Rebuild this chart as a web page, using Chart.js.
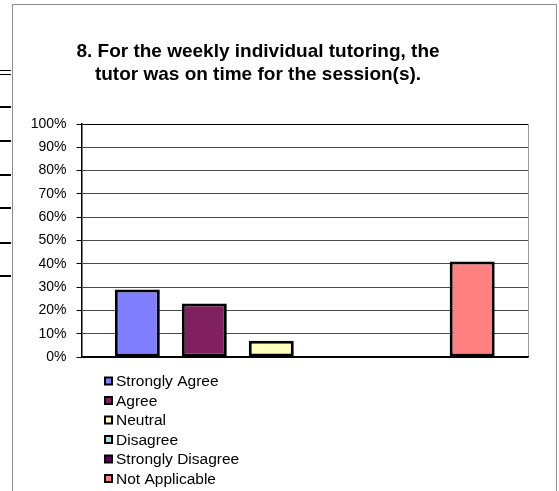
<!DOCTYPE html>
<html>
<head>
<meta charset="utf-8">
<script src="https://cdn.jsdelivr.net/npm/chart.js"></script>
<style>
  html, body { margin: 0; padding: 0; background: #fff; }
  #wrap { position: relative; width: 559px; height: 491px; overflow: hidden; }
  #frame {
    position: absolute; left: 12px; top: 4px; width: 545px; height: 500px;
    border: 1px solid #8c8c8c; box-sizing: border-box;
  }
  .stub { position: absolute; left: 0; width: 11px; height: 2px; background: #000; }
  #chartBox { position: absolute; left: 0; top: 0; width: 559px; height: 491px; }
</style>
</head>
<body>
<div id="wrap">
  <div class="stub" style="top:70px;height:1px"></div>
  <div class="stub" style="top:74px;height:1px"></div>
  <div class="stub" style="top:106px"></div>
  <div class="stub" style="top:140px"></div>
  <div class="stub" style="top:174px"></div>
  <div class="stub" style="top:207px"></div>
  <div class="stub" style="top:242px"></div>
  <div class="stub" style="top:275px"></div>
  <div id="frame"></div>
  <div id="chartBox"><canvas id="chart"></canvas></div>
</div>
<script>
const TITLE_LINES = [
  "8. For the weekly individual tutoring, the",
  "tutor was on time for the session(s).",
];
const CATEGORIES = [""];
const SERIES_NAMES = ["Strongly Agree", "Agree", "Neutral", "Disagree", "Strongly Disagree", "Not Applicable"];
const SERIES_VALUES = [29, 23, 7, 0, 0, 41];
const SERIES_COLORS = ["#8080ff", "#802060", "#ffffc0", "#a0e0e0", "#600060", "#ff8080"];
const Y_MIN = 0;
const Y_MAX = 100;
const Y_STEP = 10;

const FONT = '"Liberation Sans", Arial, sans-serif';
Chart.defaults.font.family = FONT;
Chart.defaults.color = "#000";

// title and the stacked legend are painted by hand, Excel style
const excelDecor = {
  id: "excelDecor",
  afterDraw(chart) {
    const ctx = chart.ctx;
    ctx.save();
    ctx.fillStyle = "#000";
    ctx.textAlign = "center";
    ctx.textBaseline = "alphabetic";
    ctx.font = "bold 19px " + FONT;
    TITLE_LINES.forEach((line, i) => ctx.fillText(line, 258, 57 + i * 23));

    ctx.textAlign = "left";
    ctx.textBaseline = "middle";
    ctx.font = "15.5px " + FONT;
    chart.data.datasets.forEach((ds, i) => {
      const y = 381 + i * 19.5;
      ctx.fillStyle = "#000";
      ctx.fillRect(104, y - 4.5, 9, 9);
      ctx.fillStyle = ds.backgroundColor;
      ctx.fillRect(106, y - 2.5, 5, 5);
      ctx.fillStyle = "#000";
      ctx.fillText(ds.label, 116, y + 1);
    });
    ctx.restore();
  },
};

new Chart(document.getElementById("chart"), {
  type: "bar",
  data: {
    labels: CATEGORIES,
    datasets: SERIES_NAMES.map((name, i) => ({
      label: name,
      data: [SERIES_VALUES[i]],
      backgroundColor: SERIES_COLORS[i],
      borderColor: "#000",
      borderWidth: (c) => (c.raw ? 3 : 0),
      borderSkipped: false,
      categoryPercentage: 0.9,
      barPercentage: 0.672,
    })),
  },
  options: {
    responsive: true,
    maintainAspectRatio: false,
    animation: false,
    layout: { padding: { left: 0, right: 31, top: 124, bottom: 134 } },
    plugins: {
      legend: { display: false },
      tooltip: { enabled: false },
    },
    scales: {
      x: {
        ticks: { display: false },
        grid: { drawTicks: false, color: "#9a9a9a", offset: true },
        border: { color: "#000", width: 1.5 },
        afterFit: (scale) => { scale.height = 0; },
      },
      y: {
        min: Y_MIN,
        max: Y_MAX,
        ticks: {
          stepSize: Y_STEP,
          padding: 10,
          font: { size: 14 },
          color: "#000",
          callback: (v) => v + "%",
        },
        grid: {
          color: (c) => (c.tick && (c.tick.value === 0 || c.tick.value === 100) ? "#000" : "#4a4a4a"),
          tickColor: "#000",
          tickLength: 5,
        },
        border: { color: "#000", width: 1.5 },
        afterFit: (scale) => { scale.width = 81.5; },
      },
    },
  },
  plugins: [excelDecor],
});
</script>
</body>
</html>
